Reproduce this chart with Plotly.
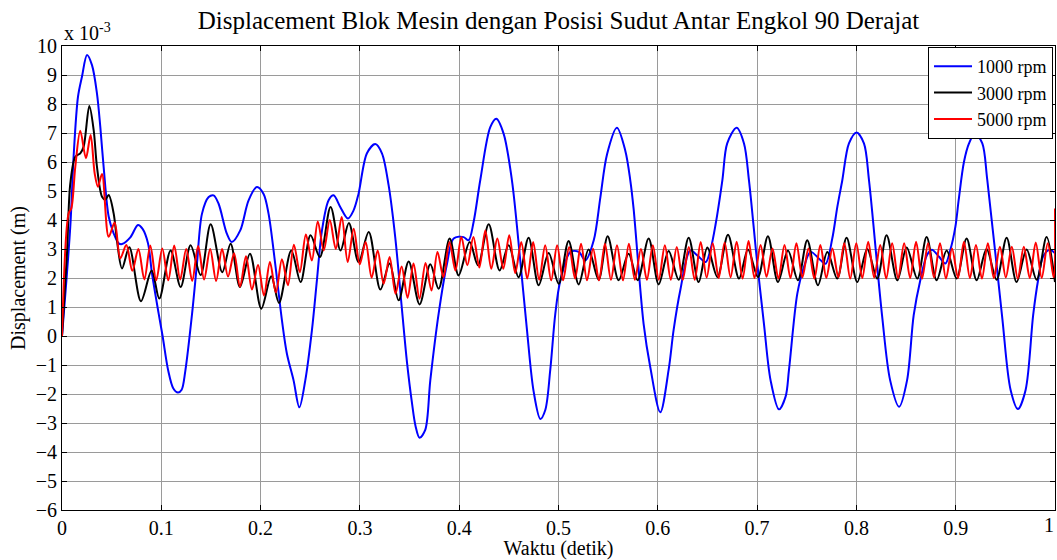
import plotly.graph_objects as go

# ---------------- data (displacement in units of 1e-3 m) ----------------
# 1000 rpm
blue_t = [0, 0.0084, 0.0117, 0.0161, 0.0201, 0.0252, 0.0302, 0.0352, 0.0386, 0.0419,
          0.047, 0.052, 0.057, 0.0604, 0.0688, 0.0765, 0.081, 0.0866, 0.0906, 0.0973,
          0.1013, 0.107, 0.112, 0.1168, 0.1205, 0.1242, 0.131, 0.1359, 0.141, 0.1477,
          0.1527, 0.1577, 0.166, 0.171, 0.1795, 0.1879, 0.1963, 0.203, 0.208, 0.2147,
          0.2215, 0.2265, 0.2332, 0.239, 0.245, 0.2517, 0.2567, 0.2618, 0.2685, 0.2735,
          0.2802, 0.2879, 0.2936, 0.2986, 0.3071, 0.3155, 0.3222, 0.3289, 0.3356, 0.3424,
          0.3474, 0.3524, 0.356, 0.3601, 0.3658, 0.3709, 0.3793, 0.3877, 0.3944, 0.4045,
          0.4095, 0.4145, 0.4212, 0.4313, 0.4374, 0.4447, 0.4531, 0.4615, 0.468, 0.4749,
          0.4817, 0.4867, 0.4917, 0.4968, 0.5019, 0.512, 0.5204, 0.5271, 0.5355, 0.5422,
          0.5489, 0.5588, 0.5672, 0.5723, 0.5756, 0.5857, 0.5924, 0.6025, 0.6109, 0.6159,
          0.6226, 0.6327, 0.6398, 0.6482, 0.6532, 0.6583, 0.665, 0.6699, 0.6794, 0.6868,
          0.6918, 0.7002, 0.7069, 0.7136, 0.722, 0.7287, 0.7321, 0.7405, 0.7472, 0.7539,
          0.764, 0.769, 0.7757, 0.7808, 0.7858, 0.7925, 0.8002, 0.8076, 0.8127, 0.8258,
          0.834, 0.843, 0.851, 0.8577, 0.8644, 0.8711, 0.876, 0.883, 0.8896, 0.8946,
          0.8997, 0.903, 0.9083, 0.9134, 0.9194, 0.9268, 0.9318, 0.9466, 0.9553, 0.9627,
          0.9704, 0.978, 0.983, 0.988, 0.9945, 1.0]
blue_v = [0, 3.8, 6.2, 8.25, 8.94, 9.69, 9.34, 8.37, 7.2, 5.84,
          4.12, 3.54, 3.2, 3.17, 3.4, 3.83, 3.7, 3.2, 2.16, 0.78,
          0.0, -1.2, -1.8, -1.95, -1.85, -1.2, 0.77, 2.49, 4.22, 4.79,
          4.85, 4.56, 3.53, 3.24, 3.64, 4.68, 5.14, 4.9, 4.22, 2.49,
          0.54, -0.61, -1.53, -2.46, -1.53, 0.2, 1.92, 3.64, 4.68, 4.85,
          4.45, 4.05, 4.33, 4.9, 6.3, 6.62, 6.3, 5.2, 3.4, 0.9,
          -0.9, -2.3, -3.1, -3.51, -3.24, -1.53, 0.77, 2.49, 3.36, 3.41,
          3.3, 3.93, 5.37, 7.2, 7.49, 6.98, 5.37, 2.6, 0.3, -1.9,
          -2.86, -2.55, -1.17, 0.77, 1.92, 2.9, 2.9, 2.61, 3.3, 4.79,
          6.27, 7.18, 6.4, 5.37, 4.4, 0.42, -1.07, -2.63, -1.17, 0.2,
          1.57, 2.95, 2.78, 2.55, 3.0, 3.87, 5.37, 6.64, 7.18, 6.64,
          5.37, 2.49, 0.42, -1.53, -2.53, -2.09, -1.17, 1.46, 2.38, 2.9,
          2.61, 2.49, 3.36, 4.45, 5.37, 6.64, 7.02, 6.64, 5.37, 0.72,
          -1.53, -2.44, -1.53, 0.72, 1.93, 2.79, 2.97, 2.74, 2.5, 2.97,
          3.77, 4.69, 6.0, 6.64, 6.99, 6.64, 5.38, 0.72, -1.86, -2.52,
          -1.86, 0.72, 1.93, 2.74, 2.97, 2.85]

# 3000 rpm
black_t = [0, 0.005, 0.0084, 0.0134, 0.0184, 0.0218, 0.0275, 0.0319, 0.0352, 0.0403,
           0.0436, 0.047, 0.052, 0.0553, 0.0604, 0.0678, 0.0795, 0.0903, 0.098, 0.1094,
           0.1195, 0.1295, 0.1396, 0.1497, 0.1614, 0.1698, 0.1792, 0.1893, 0.2007, 0.2107,
           0.2185, 0.2309, 0.2403, 0.2503, 0.2597, 0.2705, 0.2805, 0.2889, 0.2987, 0.3089,
           0.3206, 0.3299, 0.339, 0.3491, 0.3601, 0.3709, 0.3793, 0.3904, 0.3994, 0.4105,
           0.4189, 0.4297, 0.4407, 0.4498, 0.4598, 0.4699, 0.48, 0.4901, 0.5002, 0.5102,
           0.5203, 0.5303, 0.5404, 0.5495, 0.5606, 0.5706, 0.5797, 0.5908, 0.6009, 0.6109,
           0.621, 0.6311, 0.6411, 0.6499, 0.66, 0.6707, 0.6818, 0.6908, 0.7009, 0.7109,
           0.721, 0.7311, 0.7411, 0.7505, 0.7613, 0.7707, 0.7807, 0.7901, 0.8009, 0.8109,
           0.821, 0.8304, 0.8412, 0.8506, 0.8613, 0.8707, 0.8808, 0.8909, 0.9009, 0.911,
           0.9211, 0.9311, 0.9412, 0.9513, 0.9613, 0.9714, 0.9815, 0.9915, 1.0]
black_v = [0, 2.85, 5.27, 6.18, 6.3, 6.53, 7.93, 7.1, 5.84, 4.8,
           4.7, 4.86, 4.23, 3.31, 2.33, 3.06, 1.2, 2.26, 1.29, 2.95,
           1.69, 3.13, 2.1, 3.85, 2.2, 3.18, 1.69, 2.84, 0.94, 2.06,
           1.14, 2.95, 1.86, 3.47, 2.72, 4.45, 2.95, 3.9, 2.55, 3.59,
           1.6, 2.5, 1.23, 2.57, 1.09, 2.47, 1.63, 3.36, 2.09, 3.24,
           2.44, 3.85, 2.26, 3.13, 2.03, 3.39, 1.75, 2.86, 1.8, 3.28,
           1.78, 2.98, 1.94, 3.44, 1.92, 2.84, 1.92, 3.36, 1.78, 2.93,
           1.94, 3.39, 1.86, 3.05, 2.03, 3.49, 1.98, 2.98, 2.03, 3.44,
           1.86, 2.95, 1.92, 3.3, 1.75, 2.9, 1.98, 3.39, 1.86, 3.0,
           1.98, 3.47, 1.92, 3.05, 1.98, 3.41, 1.92, 2.95, 1.98, 3.36,
           1.92, 3.0, 1.94, 3.39, 1.86, 2.98, 1.94, 3.41, 1.86]

# 5000 rpm: start-up transient, then the regular oscillation (peaks / troughs)
red_start_t = [0, 0.0067, 0.0094, 0.0134, 0.0184, 0.0241, 0.0288, 0.0329, 0.0362, 0.0403,
               0.047, 0.053, 0.0587]
red_start_v = [0, 4.23, 4.4, 5.84, 7.08, 6.13, 6.93, 5.61, 5.15, 5.59,
               3.42, 3.91, 2.68]
red_peak_t = [0.0648, 0.0769, 0.0889, 0.1010, 0.1130, 0.1251, 0.1371, 0.1492, 0.1612, 0.1733,
              0.1853, 0.1974, 0.2094, 0.2215, 0.2335, 0.2456, 0.2576, 0.2697, 0.2817, 0.2938,
              0.3058, 0.3179, 0.3299, 0.3420, 0.3540, 0.3661, 0.3781, 0.3902, 0.4022, 0.4143,
              0.4263, 0.4384, 0.4504, 0.4625, 0.4745, 0.4866, 0.4986, 0.5107, 0.5227, 0.5348,
              0.5468, 0.5589, 0.5709, 0.5830, 0.5950, 0.6071, 0.6191, 0.6312, 0.6432, 0.6553,
              0.6673, 0.6794, 0.6914, 0.7035, 0.7155, 0.7276, 0.7396, 0.7517, 0.7637, 0.7758,
              0.7878, 0.7999, 0.8119, 0.8240, 0.8360, 0.8481, 0.8601, 0.8722, 0.8842, 0.8963,
              0.9083, 0.9204, 0.9324, 0.9445, 0.9565, 0.9686, 0.9806, 0.9927]
red_peak_v = [3.14, 3.0, 3.12, 3.02, 3.12, 3.0, 3.1, 3.0, 3.0, 2.85,
              2.75, 2.45, 2.55, 2.65, 3.15, 3.5, 3.95, 4.0, 4.1, 3.7,
              3.24, 2.95, 2.72, 2.4, 2.5, 2.52, 2.9, 3.24, 3.41, 3.41,
              3.64, 3.36, 3.47, 3.24, 3.24, 3.13, 3.13, 3.07, 3.18, 3.01,
              3.18, 3.13, 3.18, 3.0, 3.13, 3.13, 3.07, 3.07, 3.24, 3.2,
              3.22, 3.25, 3.28, 3.14, 3.02, 3.14, 3.2, 3.02, 3.14, 3.02,
              3.2, 3.2, 3.25, 3.14, 3.2, 3.2, 3.25, 3.2, 3.2, 3.02,
              3.25, 3.14, 3.2, 3.08, 3.08, 3.08, 3.22, 3.2]
red_trough_t = [0.0708, 0.0829, 0.0949, 0.1070, 0.1190, 0.1311, 0.1431, 0.1552, 0.1672, 0.1793,
                0.1913, 0.2034, 0.2154, 0.2275, 0.2395, 0.2516, 0.2636, 0.2757, 0.2877, 0.2998,
                0.3118, 0.3239, 0.3359, 0.3480, 0.3600, 0.3721, 0.3841, 0.3962, 0.4082, 0.4203,
                0.4323, 0.4444, 0.4564, 0.4685, 0.4805, 0.4926, 0.5046, 0.5167, 0.5287, 0.5408,
                0.5528, 0.5649, 0.5769, 0.5890, 0.6010, 0.6131, 0.6251, 0.6372, 0.6492, 0.6613,
                0.6733, 0.6854, 0.6974, 0.7095, 0.7215, 0.7336, 0.7456, 0.7577, 0.7697, 0.7818,
                0.7938, 0.8059, 0.8179, 0.8300, 0.8420, 0.8541, 0.8661, 0.8782, 0.8902, 0.9023,
                0.9143, 0.9264, 0.9384, 0.9505, 0.9625, 0.9746, 0.9866, 0.9987]
red_trough_v = [2.25, 1.95, 1.92, 1.92, 1.95, 1.9, 1.95, 1.9, 2.05, 1.7,
                1.6, 1.4, 1.5, 1.75, 2.2, 2.6, 2.95, 3.0, 2.55, 2.47,
                2.01, 1.8, 1.46, 1.32, 1.29, 1.57, 2.03, 2.26, 2.44, 2.36,
                2.32, 2.32, 2.17, 1.98, 1.94, 1.92, 1.92, 1.98, 1.92, 1.92,
                1.94, 1.92, 1.94, 1.94, 1.94, 1.94, 1.94, 1.94, 2.02, 2.0,
                2.03, 1.98, 2.0, 2.04, 1.98, 2.0, 2.02, 1.98, 2.0, 2.03,
                1.98, 2.0, 2.02, 1.98, 2.0, 2.0, 1.98, 2.02, 1.98, 2.0,
                2.0, 1.98, 2.0, 2.02, 1.98, 2.0, 2.0, 2.0]
red_end_t = [1.0]
red_end_v = [4.4]

series_names = ["1000 rpm", "3000 rpm", "5000 rpm"]
series_colors = ["#0000ff", "#000000", "#ff0000"]
x_ticks = [0, 0.1, 0.2, 0.3, 0.4, 0.5, 0.6, 0.7, 0.8, 0.9, 1]
x_tick_text = ["0", "0.1", "0.2", "0.3", "0.4", "0.5", "0.6", "0.7", "0.8", "0.9", "1"]
y_ticks = list(range(-6, 11))

# merge the 5000 rpm pieces in time order
red_pairs = sorted(list(zip(red_start_t, red_start_v)) + list(zip(red_peak_t, red_peak_v))
                   + list(zip(red_trough_t, red_trough_v)) + list(zip(red_end_t, red_end_v)))
red_t = [p[0] for p in red_pairs]
red_v = [p[1] for p in red_pairs]

FONT = "Liberation Serif, Times New Roman, serif"

fig = go.Figure()
for name, color, tx, vy in zip(series_names, series_colors,
                               [blue_t, black_t, red_t], [blue_v, black_v, red_v]):
    fig.add_trace(go.Scatter(x=tx, y=vy, mode="lines", name=name,
                             line=dict(color=color, width=2, shape="spline", smoothing=0.9)))

axis_common = dict(
    showline=True, linecolor="black", linewidth=1, mirror="ticks",
    ticks="inside", ticklen=5, tickcolor="black", tickwidth=1,
    showgrid=True, gridcolor="#9a9a9a", gridwidth=1,
    zeroline=False, tickfont=dict(family=FONT, size=20, color="black"),
)
fig.update_xaxes(range=[0, 1], tickvals=x_ticks[:-1], ticktext=x_tick_text[:-1],
                 title=dict(text="Waktu (detik)", font=dict(family=FONT, size=20, color="black"),
                            standoff=2),
                 **axis_common)
fig.update_yaxes(range=[-6, 10], tickvals=y_ticks,
                 title=dict(text="Displacement (m)", font=dict(family=FONT, size=20, color="black"),
                            standoff=4),
                 **axis_common)

fig.update_layout(
    width=1057, height=560,
    margin=dict(l=62, r=2, t=46, b=50),
    paper_bgcolor="white", plot_bgcolor="white",
    font=dict(family=FONT, size=20, color="black"),
    title=dict(text="Displacement Blok Mesin dengan Posisi Sudut Antar Engkol 90 Derajat",
               x=0.5, xref="paper", xanchor="center",
               y=1 - 20 / 560, yref="container", yanchor="middle",
               font=dict(family=FONT, size=25, color="black")),
    legend=dict(x=0.998, xanchor="right", y=0.998, yanchor="top",
                bordercolor="black", borderwidth=1, bgcolor="white",
                font=dict(family=FONT, size=18, color="black"),
                itemwidth=38, tracegroupgap=0),
    showlegend=True,
)
fig.add_annotation(text="x 10<sup>-3</sup>", xref="paper", yref="paper", x=0, y=1,
                   xanchor="left", yanchor="bottom", showarrow=False, yshift=0,
                   font=dict(family=FONT, size=20, color="black"))
# the last x tick label (1) sits on the right edge of the figure; keep it inside the page
fig.add_annotation(text=x_tick_text[-1], xref="x", yref="paper", x=x_ticks[-1], y=0,
                   xanchor="right", yanchor="top", showarrow=False, yshift=-2, xshift=1,
                   font=dict(family=FONT, size=20, color="black"))

fig.write_html("out.html")
